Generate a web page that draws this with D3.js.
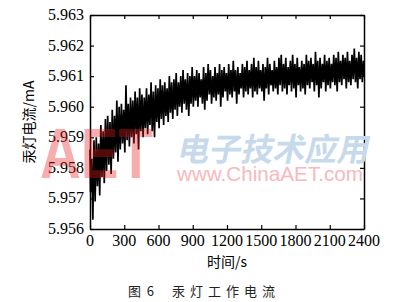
<!DOCTYPE html>
<html lang="zh">
<head>
<meta charset="UTF-8">
<title>汞灯工作电流</title>
<style>
  body { margin: 0; background: #fff; }
</style>
</head>
<body>
<div id="chart"></div>
<script src="https://d3js.org/d3.v7.min.js"></script>
<script>
const width = 403, height = 302;
const margin = {top: 15, right: 39, bottom: 73, left: 90};
const SERIF = '"Liberation Serif"';
const CJK = '"Noto Sans CJK SC"';
const SANS = '"Liberation Sans"';

// sample spacing 20 s, upper / lower excursion of the noisy trace (mA)
const step = 20;
const upper = [
  5.9586, 5.9583, 5.9589, 5.9590, 5.9588, 5.9594, 5.9592, 5.9596, 5.9597, 5.9595,
  5.9599, 5.9597, 5.9602, 5.9600, 5.9601, 5.9599, 5.9607, 5.9601, 5.9603, 5.9602,
  5.9605, 5.9603, 5.9606, 5.9604, 5.9603, 5.9606, 5.9604, 5.9608, 5.9605, 5.9607,
  5.9606, 5.9609, 5.9607, 5.9608, 5.9606, 5.9610, 5.9608, 5.9609, 5.9611, 5.9608,
  5.9610, 5.9612, 5.9609, 5.9611, 5.9610, 5.9613, 5.9610, 5.9612, 5.9611, 5.9609,
  5.9613, 5.9611, 5.9614, 5.9612, 5.9610, 5.9613, 5.9611, 5.9614, 5.9612, 5.9613,
  5.9611, 5.9614, 5.9612, 5.9615, 5.9612, 5.9613, 5.9611, 5.9614, 5.9613, 5.9615,
  5.9612, 5.9614, 5.9616, 5.9613, 5.9615, 5.9612, 5.9614, 5.9613, 5.9616, 5.9614,
  5.9612, 5.9615, 5.9613, 5.9616, 5.9617, 5.9614, 5.9616, 5.9613, 5.9615, 5.9617,
  5.9614, 5.9616, 5.9613, 5.9615, 5.9614, 5.9617, 5.9615, 5.9616, 5.9614, 5.9618,
  5.9615, 5.9616, 5.9614, 5.9617, 5.9615, 5.9616, 5.9614, 5.9617, 5.9616, 5.9618,
  5.9615, 5.9617, 5.9616, 5.9618, 5.9615, 5.9617, 5.9619, 5.9616, 5.9618, 5.9617,
  5.9615
];
const lower = [
  5.9572, 5.9563, 5.9569, 5.9574, 5.9571, 5.9577, 5.9575, 5.9579, 5.9581, 5.9578,
  5.9583, 5.9585, 5.9582, 5.9586, 5.9588, 5.9585, 5.9589, 5.9587, 5.9590, 5.9588,
  5.9591, 5.9586, 5.9592, 5.9590, 5.9593, 5.9591, 5.9594, 5.9592, 5.9590, 5.9595,
  5.9593, 5.9596, 5.9594, 5.9597, 5.9595, 5.9598, 5.9596, 5.9599, 5.9597, 5.9600,
  5.9598, 5.9601, 5.9599, 5.9597, 5.9601, 5.9600, 5.9602, 5.9600, 5.9603, 5.9601,
  5.9599, 5.9602, 5.9604, 5.9601, 5.9603, 5.9602, 5.9604, 5.9600, 5.9603, 5.9605,
  5.9602, 5.9604, 5.9603, 5.9605, 5.9601, 5.9604, 5.9606, 5.9603, 5.9605, 5.9604,
  5.9606, 5.9603, 5.9605, 5.9604, 5.9606, 5.9605, 5.9602, 5.9606, 5.9604, 5.9607,
  5.9605, 5.9606, 5.9604, 5.9607, 5.9605, 5.9606, 5.9604, 5.9607, 5.9605, 5.9606,
  5.9603, 5.9607, 5.9605, 5.9606, 5.9604, 5.9607, 5.9606, 5.9608, 5.9605, 5.9607,
  5.9603, 5.9606, 5.9608, 5.9605, 5.9607, 5.9606, 5.9608, 5.9607, 5.9605, 5.9608,
  5.9607, 5.9609, 5.9606, 5.9608, 5.9607, 5.9609, 5.9608, 5.9606, 5.9609, 5.9608,
  5.9610
];
const xTicks = [0, 300, 600, 900, 1200, 1500, 1800, 2100, 2400];
const yTicks = [5.956, 5.957, 5.958, 5.959, 5.960, 5.961, 5.962, 5.963];

const w = width - margin.left - margin.right;
const h = height - margin.top - margin.bottom;

const svg = d3.select("#chart").append("svg")
    .attr("width", width)
    .attr("height", height);

const g = svg.append("g").attr("transform", `translate(${margin.left},${margin.top})`);

const x = d3.scaleLinear().domain([0, 2400]).range([0, w]);
const y = d3.scaleLinear().domain([5.956, 5.963]).range([h, 0]);

// zigzag between the upper and lower excursions
const pts = [];
upper.forEach((u, i) => {
  const t = i * step;
  pts.push([Math.max(0, t - step / 4), u]);
  pts.push([Math.min(2400, t + step / 4), lower[i]]);
});

g.append("path")
    .datum(pts)
    .attr("fill", "none")
    .attr("stroke", "#000")
    .attr("stroke-width", 1.7)
    .attr("stroke-linejoin", "miter")
    .attr("d", d3.line().x(d => x(d[0])).y(d => y(d[1])));

// watermark
svg.append("text")
    .attr("x", 40).attr("y", 178)
    .attr("textLength", 113).attr("lengthAdjust", "spacingAndGlyphs")
    .style("font-family", SANS)
    .style("font-weight", "bold")
    .style("font-size", "71px")
    .attr("fill", "#e81c1c").attr("fill-opacity", 0.36)
    .text("AET");
svg.append("text")
    .attr("transform", "translate(176,161) skewX(-12)")
    .attr("textLength", 192).attr("lengthAdjust", "spacingAndGlyphs")
    .style("font-family", CJK)
    .style("font-size", "32px")
    .style("font-weight", "bold")
    .attr("fill", "#c6daeb")
    .text("电子技术应用");
svg.append("text")
    .attr("x", 177).attr("y", 181)
    .attr("textLength", 186).attr("lengthAdjust", "spacingAndGlyphs")
    .style("font-family", SANS)
    .style("font-size", "21px")
    .attr("fill", "#f8b8bc")
    .text("www.ChinaAET.com");

// axes, ticks inward on all four sides (labels drawn separately below)
const tickLen = 4;
const axB = g.append("g").attr("transform", `translate(0,${h})`)
    .call(d3.axisBottom(x).tickValues(xTicks).tickSizeInner(-tickLen).tickSizeOuter(0).tickFormat(""));
const axT = g.append("g")
    .call(d3.axisTop(x).tickValues(xTicks).tickSizeInner(-tickLen).tickSizeOuter(0).tickFormat(""));
const axL = g.append("g")
    .call(d3.axisLeft(y).tickValues(yTicks).tickSizeInner(-tickLen).tickSizeOuter(0).tickFormat(""));
const axR = g.append("g").attr("transform", `translate(${w},0)`)
    .call(d3.axisRight(y).tickValues(yTicks).tickSizeInner(-tickLen).tickSizeOuter(0).tickFormat(""));

[axB, axT, axL, axR].forEach(a => {
  a.select(".domain").attr("stroke", "#000").attr("stroke-width", 1.5);
  a.selectAll(".tick line").attr("stroke", "#000").attr("stroke-width", 1.2);
});

// tick labels
const fmtY = d3.format(".3f");
g.selectAll("text.xlab")
  .data(xTicks)
  .join("text")
    .attr("class", "xlab")
    .attr("x", d => x(d))
    .attr("y", h + 17)
    .attr("text-anchor", "middle")
    .style("font-family", SERIF)
    .style("font-size", "16px")
    .attr("fill", "#000")
    .text(d => d);
g.selectAll("text.ylab")
  .data(yTicks)
  .join("text")
    .attr("class", "ylab")
    .attr("x", -6)
    .attr("y", d => y(d) + 5)
    .attr("text-anchor", "end")
    .style("font-family", SERIF)
    .style("font-size", "16px")
    .attr("fill", "#000")
    .text(d => fmtY(d));

// axis titles
svg.append("text")
    .attr("x", 227).attr("y", 267)
    .attr("text-anchor", "middle")
    .style("font-family", CJK)
    .style("font-size", "14px")
    .text("时间/s");
svg.append("text")
    .attr("transform", "translate(34,122) rotate(-90)")
    .attr("text-anchor", "middle")
    .style("font-family", CJK)
    .style("font-size", "14px")
    .text("汞灯电流/mA");

// caption
svg.append("text")
    .attr("x", 128).attr("y", 296)
    .style("font-family", CJK)
    .style("font-size", "13px")
    .attr("fill", "#222")
    .text("图\u00a0\u00a06");
svg.append("text")
    .attr("x", 172).attr("y", 296)
    .style("font-family", CJK)
    .style("font-size", "13px")
    .style("letter-spacing", "5px")
    .attr("fill", "#222")
    .text("汞灯工作电流");
</script>
</body>
</html>
